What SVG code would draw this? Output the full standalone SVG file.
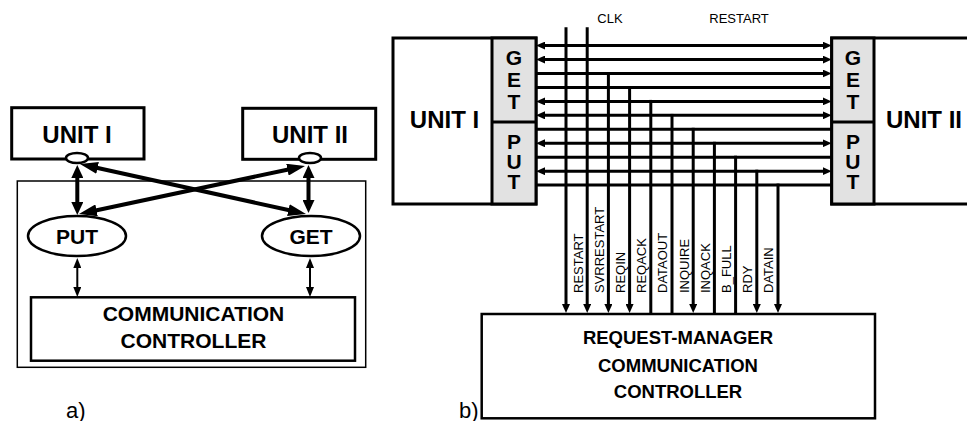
<svg xmlns="http://www.w3.org/2000/svg" width="967" height="421" viewBox="0 0 967 421">
<style>
  text { font-family: "Liberation Sans", Arial, Helvetica, sans-serif; fill: #000; }
  .b { font-weight: bold; }
  .thickbox { fill: #fff; stroke: #000; stroke-width: 3; }
  .medbox { fill: #fff; stroke: #000; stroke-width: 2.5; }
  .col { fill: #e2e2e2; stroke: #000; stroke-width: 3; }
  .thin { fill: none; stroke: #000; stroke-width: 1.5; }
  .w4 { stroke: #000; stroke-width: 4; fill: none; }
  .w2 { stroke: #000; stroke-width: 2; fill: none; }
  .bus { stroke: #000; stroke-width: 3; fill: none; }
  .sig { font-size: 13px; }
</style>
<defs>
  <marker id="ahThick" markerUnits="userSpaceOnUse" markerWidth="14" markerHeight="12" refX="1" refY="6" orient="auto-start-reverse">
    <path d="M0,0 L13,6 L0,12 z" fill="#000"/>
  </marker>
  <marker id="ahCross" markerUnits="userSpaceOnUse" markerWidth="19" markerHeight="12" refX="1" refY="6" orient="auto-start-reverse">
    <path d="M0,0 L18,6 L0,12 z" fill="#000"/>
  </marker>
  <marker id="ahThin" markerUnits="userSpaceOnUse" markerWidth="11" markerHeight="8" refX="1" refY="4" orient="auto-start-reverse">
    <path d="M0,0 L10,4 L0,8 z" fill="#000"/>
  </marker>
  <marker id="ahBus" markerUnits="userSpaceOnUse" markerWidth="10" markerHeight="8" refX="1" refY="4" orient="auto-start-reverse">
    <path d="M0,0 L9,4 L0,8 z" fill="#000"/>
  </marker>
</defs>

<!-- ===== Panel a ===== -->
<g id="a-container">
  <rect class="thin" x="17.3" y="181" width="348.4" height="186.3"/>
</g>
<g id="a-unit1">
  <rect class="thickbox" x="11.7" y="107.7" width="132.3" height="51.3"/>
  <text class="b" x="77" y="143" font-size="24" text-anchor="middle">UNIT I</text>
</g>
<g id="a-unit2">
  <rect class="thickbox" x="242.7" y="108.3" width="133" height="51"/>
  <text class="b" x="310" y="143" font-size="24" text-anchor="middle">UNIT II</text>
</g>
<g id="a-port1">
  <ellipse class="medbox" cx="77" cy="158" rx="11" ry="5"/>
</g>
<g id="a-port2">
  <ellipse class="medbox" cx="310" cy="158" rx="11" ry="5"/>
</g>
<g id="a-put">
  <ellipse class="medbox" cx="77" cy="236" rx="49" ry="20"/>
  <text class="b" x="77" y="244" font-size="21" text-anchor="middle">PUT</text>
</g>
<g id="a-get">
  <ellipse class="medbox" cx="311" cy="236" rx="49" ry="20"/>
  <text class="b" x="311" y="244" font-size="21" text-anchor="middle">GET</text>
</g>
<g id="a-comm">
  <rect class="medbox" x="31" y="297.3" width="324" height="63.4"/>
  <text class="b" x="193.5" y="321" font-size="21" text-anchor="middle">COMMUNICATION</text>
  <text class="b" x="193.5" y="347.7" font-size="21" text-anchor="middle">CONTROLLER</text>
</g>
<g id="a-connectors">
  <line class="w4" x1="77.3" y1="177" x2="77.3" y2="203" marker-start="url(#ahThick)" marker-end="url(#ahThick)"/>
  <line class="w4" x1="308.5" y1="177" x2="308.5" y2="201" marker-start="url(#ahThick)" marker-end="url(#ahThick)"/>
  <line class="w4" x1="96.6" y1="167.7" x2="289.4" y2="210.3" marker-start="url(#ahCross)" marker-end="url(#ahCross)"/>
  <line class="w4" x1="288.4" y1="169.5" x2="95.6" y2="210.5" marker-start="url(#ahCross)" marker-end="url(#ahCross)"/>
  <line class="w2" x1="77.3" y1="267" x2="77.3" y2="288" marker-start="url(#ahThin)" marker-end="url(#ahThin)"/>
  <line class="w2" x1="310" y1="267" x2="310" y2="288" marker-start="url(#ahThin)" marker-end="url(#ahThin)"/>
</g>
<text x="66" y="418" font-size="22">a)</text>

<!-- ===== Panel b ===== -->
<g id="b-unit1">
  <rect class="thickbox" x="393" y="38" width="143" height="166"/>
  <rect class="col" x="492" y="38" width="44" height="166"/>
  <line class="bus" x1="492" y1="122" x2="536" y2="122"/>
  <text class="b" x="444.5" y="128" font-size="24" text-anchor="middle">UNIT I</text>
  <g class="b" font-size="21" text-anchor="middle">
    <text x="514" y="65">G</text>
    <text x="514" y="87">E</text>
    <text x="514" y="108.5">T</text>
    <text x="514" y="149">P</text>
    <text x="514" y="169">U</text>
    <text x="514" y="188.5">T</text>
  </g>
</g>
<g id="b-unit2">
  <rect class="thickbox" x="831.7" y="38" width="150" height="166"/>
  <rect class="col" x="831.7" y="38" width="42.3" height="166"/>
  <line class="bus" x1="831.7" y1="122" x2="874" y2="122"/>
  <text class="b" x="924" y="128" font-size="24" text-anchor="middle">UNIT II</text>
  <g class="b" font-size="21" text-anchor="middle">
    <text x="852.9" y="65">G</text>
    <text x="852.9" y="87">E</text>
    <text x="852.9" y="108.5">T</text>
    <text x="852.9" y="149">P</text>
    <text x="852.9" y="169">U</text>
    <text x="852.9" y="188.5">T</text>
  </g>
</g>
<g id="b-rm">
  <rect class="medbox" x="481.7" y="314" width="393.3" height="104.3"/>
  <g class="b" font-size="18.5" text-anchor="middle">
    <text x="678" y="344">REQUEST-MANAGER</text>
    <text x="678" y="371.7">COMMUNICATION</text>
    <text x="678" y="398.3">CONTROLLER</text>
  </g>
</g>
<g id="b-connectors">
  <line class="bus" x1="544" y1="45.6" x2="823.7" y2="45.6" marker-start="url(#ahBus)" marker-end="url(#ahBus)"/>
  <line class="bus" x1="544" y1="59.55" x2="823.7" y2="59.55" marker-start="url(#ahBus)" marker-end="url(#ahBus)"/>
  <line class="bus" x1="536" y1="73.5" x2="823.7" y2="73.5" marker-end="url(#ahBus)"/>
  <line class="bus" x1="536" y1="87.45" x2="831.7" y2="87.45"/>
  <line class="bus" x1="544" y1="101.4" x2="823.7" y2="101.4" marker-start="url(#ahBus)" marker-end="url(#ahBus)"/>
  <line class="bus" x1="544" y1="115.35" x2="823.7" y2="115.35" marker-start="url(#ahBus)" marker-end="url(#ahBus)"/>
  <line class="bus" x1="536" y1="129.3" x2="831.7" y2="129.3"/>
  <line class="bus" x1="544" y1="143.25" x2="823.7" y2="143.25" marker-start="url(#ahBus)" marker-end="url(#ahBus)"/>
  <line class="bus" x1="536" y1="157.2" x2="831.7" y2="157.2"/>
  <line class="bus" x1="544" y1="171.15" x2="823.7" y2="171.15" marker-start="url(#ahBus)" marker-end="url(#ahBus)"/>
  <line class="bus" x1="536" y1="185.1" x2="831.7" y2="185.1"/>
  <line class="bus" x1="566" y1="27.3" x2="566" y2="305" marker-end="url(#ahBus)"/>
  <line class="bus" x1="587.2" y1="27.3" x2="587.2" y2="305" marker-end="url(#ahBus)"/>
  <line class="bus" x1="608.4" y1="72" x2="608.4" y2="305" marker-end="url(#ahBus)"/>
  <line class="bus" x1="629.6" y1="86" x2="629.6" y2="305" marker-end="url(#ahBus)"/>
  <line class="bus" x1="650.8" y1="99.9" x2="650.8" y2="314"/>
  <line class="bus" x1="672" y1="113.9" x2="672" y2="314"/>
  <line class="bus" x1="693.2" y1="127.8" x2="693.2" y2="305" marker-end="url(#ahBus)"/>
  <line class="bus" x1="714.4" y1="141.8" x2="714.4" y2="314"/>
  <line class="bus" x1="735.6" y1="155.7" x2="735.6" y2="314"/>
  <line class="bus" x1="756.8" y1="169.7" x2="756.8" y2="305" marker-end="url(#ahBus)"/>
  <line class="bus" x1="778" y1="183.6" x2="778" y2="305" marker-end="url(#ahBus)"/>
</g>
<g id="b-labels" class="sig">
  <text x="610" y="22.7" text-anchor="middle">CLK</text>
  <text x="739" y="22.7" text-anchor="middle">RESTART</text>
  <text transform="translate(582.5,293) rotate(-90)">RESTART</text>
  <text transform="translate(603.7,293) rotate(-90)">SVRRESTART</text>
  <text transform="translate(624.9,293) rotate(-90)">REQIN</text>
  <text transform="translate(646.1,293) rotate(-90)">REQACK</text>
  <text transform="translate(667.3,293) rotate(-90)">DATAOUT</text>
  <text transform="translate(688.5,293) rotate(-90)">INQUIRE</text>
  <text transform="translate(709.7,293) rotate(-90)">INQACK</text>
  <text transform="translate(730.9,293) rotate(-90)">B_FULL</text>
  <text transform="translate(752.1,293) rotate(-90)">RDY</text>
  <text transform="translate(773.3,293) rotate(-90)">DATAIN</text>
</g>
<text x="459" y="418" font-size="22">b)</text>
</svg>
